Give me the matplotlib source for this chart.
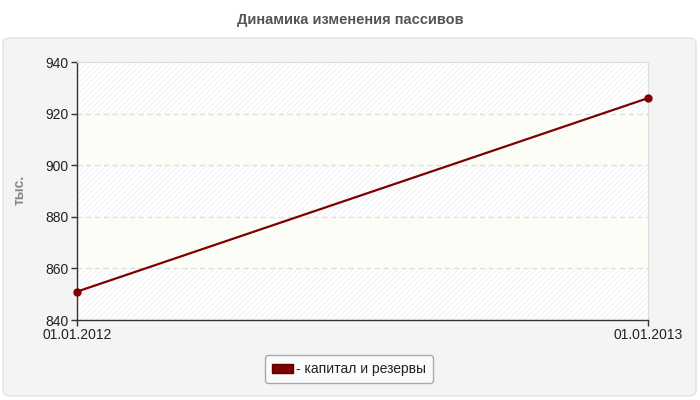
import matplotlib
matplotlib.use("Agg")
import matplotlib.pyplot as plt
from matplotlib.patches import FancyBboxPatch, Patch

# data
dates = ["01.01.2012", "01.01.2013"]
kapital = [851, 926]
series_name = "капитал и резервы"
title = "Динамика изменения пассивов"
y_unit = "тыс."
y_ticks = [840, 860, 880, 900, 920, 940]

plt.rcParams['font.family'] = ['Liberation Sans', 'DejaVu Sans']
plt.rcParams['hatch.linewidth'] = 0.6

fig = plt.figure(figsize=(7, 4), dpi=100)
fig.patch.set_facecolor("white")

# gray rounded panel behind the axes
panel = FancyBboxPatch((3 / 700, 4 / 400), 693 / 700, 358 / 400,
                       boxstyle="round,pad=0,rounding_size=0.012",
                       transform=fig.transFigure, facecolor="#f4f4f4",
                       edgecolor="#e2e2e2", linewidth=1, zorder=-10)
fig.patches.append(panel)

fig.text(0.5, 1 - 20 / 400, title, ha="center", va="center",
         fontsize=10.5, fontweight="bold", color="#555555")

ax = fig.add_axes([77 / 700, 80 / 400, 571 / 700, 258 / 400])
ax.set_facecolor("white")
x = list(range(len(dates)))

# alternating bands
for i in range(len(y_ticks) - 1):
    lo, hi = y_ticks[i], y_ticks[i + 1]
    if i % 2 == 0:
        ax.axhspan(lo, hi, facecolor="white", edgecolor="#efefef",
                   hatch="//////", linewidth=0, zorder=0)
    else:
        ax.axhspan(lo, hi, facecolor="#fdfdf8", edgecolor="none",
                   linewidth=0, zorder=0)

for yv in y_ticks[1:-1]:
    ax.axhline(yv, color="#dddddd", linestyle=(0, (4, 3)), linewidth=0.9, zorder=1)

ax.plot(x, kapital, color="#7f0000", linewidth=1.6, marker="o",
        markersize=5, zorder=3, clip_on=False)

ax.set_xlim(0, len(dates) - 1)
ax.set_ylim(y_ticks[0], y_ticks[-1])
ax.set_yticks(y_ticks)
ax.set_xticks(x)
ax.set_xticklabels(dates)

for s in ["top", "right"]:
    ax.spines[s].set_color("#dddddd")
for s in ["left", "bottom"]:
    ax.spines[s].set_color("#333333")
    ax.spines[s].set_linewidth(1)
ax.tick_params(axis="both", length=4, width=1, color="#333333",
               labelsize=10, labelcolor="#222222", pad=2)

fig.text(20 / 700, 1 - 190 / 400, y_unit, rotation=90, ha="center", va="center",
         fontsize=10, fontweight="bold", color="#888888")

# legend
handles = [Patch(facecolor="#7f0000", edgecolor="#5a0000", label="- " + series_name)]
leg = ax.legend(handles=handles, loc="center",
                bbox_to_anchor=(349 / 700, 1 - 369 / 400),
                bbox_transform=fig.transFigure, frameon=True, fancybox=True,
                fontsize=10, handlelength=1.5, handleheight=0.6, handletextpad=0.25,
                borderpad=0.5, labelcolor="#222222")
leg.get_frame().set_edgecolor("#aaaaaa")
leg.get_frame().set_facecolor("#fbfbfb")
leg.get_frame().set_alpha(1)

fig.savefig("out.png", dpi=100)
